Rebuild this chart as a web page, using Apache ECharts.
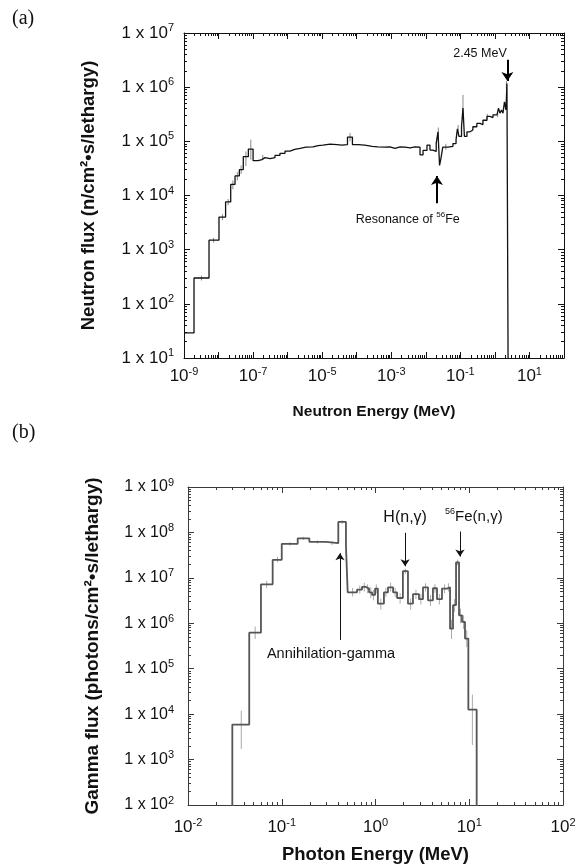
<!DOCTYPE html>
<html>
<head>
<meta charset="utf-8">
<script src="https://cdn.jsdelivr.net/npm/echarts@6/dist/echarts.min.js"></script>
<style>
html, body { margin: 0; padding: 0; background: #fff; }
#main { width: 582px; height: 865px; }
</style>
</head>
<body>
<div id="main"></div>
<script>
// (a) neutron spectrum - bin lower edges (MeV) and flux per bin
var nEnergy = [1e-9, 1.95e-9, 5.3e-9, 1.03e-8, 1.6e-8, 2.25e-8, 3.0e-8, 4.0e-8, 5.2e-8, 7.3e-8,
    1.0e-7, 1.4e-7, 1.8e-7, 2.2e-7, 3.1e-7, 4.3e-7, 6.0e-7, 8.4e-7, 1.17e-6, 1.6e-6,
    2.3e-6, 3.4e-6, 5.4e-6, 7.6e-6, 1.05e-5, 1.7e-5, 2.7e-5, 3.7e-5, 5.4e-5, 7.5e-5,
    1.09e-4, 1.7e-4, 2.8e-4, 4.1e-4, 6.6e-4, 9.2e-4, 1.28e-3, 1.8e-3, 2.5e-3, 3.5e-3,
    4.9e-3, 6.8e-3, 8.3e-3, 1.08e-2, 1.32e-2, 1.6e-2, 2.0e-2, 2.25e-2, 2.5e-2, 2.75e-2,
    3.1e-2, 4.4e-2, 6.1e-2, 7.5e-2, 8.2e-2, 9.1e-2, 0.108, 0.119, 0.131, 0.155,
    0.19, 0.23, 0.30, 0.37, 0.45, 0.59, 0.72, 0.88, 1.15, 1.27,
    1.40, 1.55, 1.71, 1.89, 2.09, 2.23, 2.45, 100];
var nFlux = [29, 300, 1500, 4000, 7600, 16000, 23000, 30000, 52000, 72000,
    44000, 46000, 50000, 48000, 50000, 55000, 60000, 66000, 71000, 74000,
    78000, 79000, 83000, 85000, 89000, 87000, 85000, 87000, 120000, 87000,
    85000, 81000, 79000, 78000, 79000, 74000, 79000, 78000, 76000, 79000,
    78000, 56000, 68000, 85000, 69000, 65000, 93000, 150000, 36000, 49000,
    78000, 81000, 91000, 107000, 170000, 123000, 186000, 410000, 123000, 150000,
    162000, 186000, 214000, 204000, 245000, 288000, 275000, 309000, 309000, 410000,
    331000, 380000, 331000, 537000, 380000, 1170000, 0.5, 0.5];
var nErrE = [3.2e-9, 7.2e-9, 1.3e-8, 1.9e-8, 2.6e-8, 3.5e-8, 4.5e-8, 6.2e-8, 8.6e-8, 1.9e-7,
    6.4e-5, 2.3e-2, 3.8e-2, 8.6e-2, 0.119, 0.6, 1.2, 2.15];
var nErrLo = [270, 1350, 3500, 6600, 13000, 19000, 25000, 35000, 46000, 46000,
    100000, 110000, 70000, 140000, 260000, 260000, 280000, 900000];
var nErrHi = [330, 1650, 4500, 8600, 19000, 27000, 36000, 65000, 107000, 56000,
    142000, 180000, 90000, 200000, 720000, 320000, 340000, 1300000];

// (b) gamma spectrum
var gEnergy = [0.01, 0.0297, 0.045, 0.060, 0.080, 0.100, 0.148, 0.197, 0.296, 0.401,
    0.484, 0.505, 0.635, 0.718, 0.792, 0.853, 0.918, 0.99, 1.06, 1.23,
    1.36, 1.54, 1.70, 1.96, 2.22, 2.51, 2.91, 3.21, 3.63, 4.10,
    4.53, 5.12, 5.79, 6.24, 6.71, 7.23, 7.78, 8.37, 9.01, 9.78, 12.0, 100];
var gFlux = [10, 5900, 6.2e5, 7.2e6, 2.5e7, 5.6e7, 7.4e7, 6.2e7, 5.8e7, 1.7e8,
    5.0e7, 4.8e6, 5.5e6, 6.3e6, 5.8e6, 4.8e6, 4.2e6, 5.8e6, 2.7e6, 4.8e6,
    6.2e6, 4.8e6, 3.6e6, 1.4e7, 2.7e6, 4.4e6, 3.4e6, 6.2e6, 3.2e6, 5.9e6,
    3.4e6, 5.8e6, 6.2e6, 7.6e5, 2.5e6, 2.2e7, 1.5e6, 1.07e6, 4.6e5, 1.26e4, 1, 1];
var gErrE = [0.037, 0.052, 0.069, 0.09, 0.122, 0.17, 0.24, 0.345, 0.44, 0.57,
    0.68, 0.76, 0.82, 0.89, 0.95, 1.02, 1.14, 1.29, 1.45, 1.62,
    1.83, 2.08, 2.37, 2.7, 3.05, 3.42, 3.86, 4.31, 4.8, 5.45,
    6.0, 6.47, 6.97, 7.5, 8.07, 8.7, 9.4, 10.8];
var gErrLo = [1700, 4.5e5, 6.0e6, 2.2e7, 5.1e7, 6.8e7, 5.7e7, 5.3e7, 1.55e8, 3.9e6,
    4.5e6, 5.0e6, 4.6e6, 3.6e6, 3.2e6, 4.6e6, 2.0e6, 3.8e6, 5.0e6, 3.8e6,
    2.7e6, 1.2e7, 2.0e6, 3.4e6, 2.6e6, 5.0e6, 2.4e6, 4.7e6, 2.6e6, 4.6e6,
    5.0e6, 4.5e5, 1.8e6, 1.9e7, 1.0e6, 7.5e5, 3.0e5, 2100];
var gErrHi = [12000, 8.5e5, 8.6e6, 2.9e7, 6.1e7, 8.0e7, 6.7e7, 6.3e7, 1.85e8, 6.0e6,
    6.8e6, 7.8e6, 7.2e6, 6.2e6, 5.4e6, 7.2e6, 3.5e6, 6.0e6, 7.8e6, 6.0e6,
    4.6e6, 1.6e7, 3.5e6, 5.5e6, 4.4e6, 7.6e6, 4.2e6, 7.3e6, 4.4e6, 7.2e6,
    7.6e6, 1.2e6, 3.4e6, 2.5e7, 2.1e6, 1.5e6, 7.0e5, 27000];

// tick label exponents
var nXLabelExp = [-9, -7, -5, -3, -1, 1];
var nYLabelExp = [1, 2, 3, 4, 5, 6, 7];
var gXLabelExp = [-2, -1, 0, 1, 2];
var gYLabelExp = [2, 3, 4, 5, 6, 7, 8, 9];

var font = 'Liberation Sans';

function expOf(v) { return Math.round(Math.log10(v)); }
function minorValues(d0, d1) {
    var out = [];
    for (var d = d0; d < d1; d++) {
        for (var m = 2; m <= 9; m++) out.push(m * Math.pow(10, d));
    }
    return out;
}
function pairs(xs, ys) { return xs.map(function (x, i) { return [x, ys[i]]; }); }

function supRich(size, supSize) {
    return {
        b: { fontFamily: font, fontSize: size, lineHeight: size + 4, color: '#111' },
        s: { fontFamily: font, fontSize: supSize, lineHeight: supSize, verticalAlign: 'top', color: '#111' }
    };
}

function logAxis(grid, pos, min, max, o) {
    var ax = {
        type: 'log', logBase: 10, gridIndex: grid, position: pos,
        min: min, max: max, interval: 1, silent: true,
        splitLine: { show: false },
        axisLine: { show: !o.minor, lineStyle: { color: o.color, width: 1 } },
        axisTick: { show: true, inside: true, length: o.minor ? 3 : 6, lineStyle: { color: o.color, width: 1 } },
        axisLabel: { show: false }
    };
    if (o.minor) ax.axisTick.customValues = o.minor;
    if (o.label) ax.axisLabel = o.label;
    if (o.name) {
        ax.name = o.name;
        ax.nameLocation = 'middle';
        ax.nameGap = o.nameGap;
        ax.nameTextStyle = { fontFamily: font, fontWeight: 'bold', fontSize: o.nameSize, color: '#111' };
    }
    return ax;
}

function xLabel(exps, size, margin) {
    return {
        show: true, margin: margin, fontFamily: font, fontSize: size, color: '#111',
        formatter: function (v) {
            var e = expOf(v);
            return exps.indexOf(e) >= 0 ? '{b|10}{s|' + e + '}' : '';
        },
        rich: supRich(size, 11)
    };
}
function yLabel(exps, size, margin) {
    return {
        show: true, margin: margin, fontFamily: font, fontSize: size, color: '#111',
        formatter: function (v) {
            var e = expOf(v);
            return exps.indexOf(e) >= 0 ? '{b|1 x 10}{s|' + e + '}' : '';
        },
        rich: supRich(size, 11)
    };
}

function errSeries(xi, yi, xs, los, his, color) {
    return {
        type: 'custom', xAxisIndex: xi, yAxisIndex: yi, silent: true, clip: true, z: 1,
        data: xs.map(function (x, i) { return [x, los[i], his[i]]; }),
        encode: { x: 0, y: [1, 2] },
        renderItem: function (params, api) {
            var a = api.coord([api.value(0), api.value(1)]);
            var b = api.coord([api.value(0), api.value(2)]);
            return { type: 'line', shape: { x1: a[0], y1: a[1], x2: b[0], y2: b[1] }, style: { stroke: color, lineWidth: 1 } };
        }
    };
}

var nMinorX = minorValues(-9, 2), nMinorY = minorValues(1, 7);
var gMinorX = minorValues(-2, 2), gMinorY = minorValues(2, 9);
var cA = '#111', cB = '#3a3a3a';

var option = {
    animation: false,
    backgroundColor: '#fff',
    grid: [
        { left: 184, top: 33, width: 380, height: 325 },
        { left: 188, top: 487, width: 375, height: 321 }
    ],
    xAxis: [
        logAxis(0, 'bottom', 1e-9, 100, { color: cA, label: xLabel(nXLabelExp, 17, 8), name: 'Neutron Energy (MeV)', nameGap: 46, nameSize: 15.5 }),
        logAxis(0, 'top', 1e-9, 100, { color: cA }),
        logAxis(0, 'bottom', 1e-9, 100, { color: cA, minor: nMinorX }),
        logAxis(0, 'top', 1e-9, 100, { color: cA, minor: nMinorX }),
        logAxis(1, 'bottom', 0.01, 100, { color: cB, label: xLabel(gXLabelExp, 17, 12), name: 'Photon Energy (MeV)', nameGap: 40, nameSize: 18.5 }),
        logAxis(1, 'top', 0.01, 100, { color: cB }),
        logAxis(1, 'bottom', 0.01, 100, { color: cB, minor: gMinorX }),
        logAxis(1, 'top', 0.01, 100, { color: cB, minor: gMinorX })
    ],
    yAxis: [
        logAxis(0, 'left', 10, 1e7, { color: cA, label: yLabel(nYLabelExp, 17, 10), name: 'Neutron flux (n/cm²•s/lethargy)', nameGap: 86, nameSize: 18.5 }),
        logAxis(0, 'right', 10, 1e7, { color: cA }),
        logAxis(0, 'left', 10, 1e7, { color: cA, minor: nMinorY }),
        logAxis(0, 'right', 10, 1e7, { color: cA, minor: nMinorY }),
        logAxis(1, 'left', 100, 1e9, { color: cB, label: yLabel(gYLabelExp, 16, 14), name: 'Gamma flux (photons/cm²•s/lethargy)', nameGap: 86, nameSize: 19 }),
        logAxis(1, 'right', 100, 1e9, { color: cB }),
        logAxis(1, 'left', 100, 1e9, { color: cB, minor: gMinorY }),
        logAxis(1, 'right', 100, 1e9, { color: cB, minor: gMinorY })
    ],
    series: [
        errSeries(0, 0, nErrE, nErrLo, nErrHi, '#888'),
        {
            type: 'line', xAxisIndex: 0, yAxisIndex: 0, step: 'end', symbol: 'none', silent: true, z: 3,
            data: pairs(nEnergy, nFlux),
            lineStyle: { color: '#111', width: 1.3 },
            markLine: {
                silent: true, symbol: ['none', 'arrow'], symbolSize: 9,
                label: { show: false },
                lineStyle: { color: '#000', width: 2, type: 'solid' },
                data: [
                    [{ coord: [2.3, 3.2e6] }, { coord: [2.3, 1.3e6] }],
                    [{ coord: [2.1e-2, 7200] }, { coord: [2.1e-2, 23000] }]
                ]
            },
            markPoint: {
                silent: true, symbol: 'circle', symbolSize: 0,
                label: { show: true, position: 'inside', fontFamily: font, fontSize: 12.5, color: '#111' },
                data: [
                    { coord: [0.37, 4.1e6], label: { formatter: '2.45 MeV' } },
                    { coord: [3.0e-3, 3600], label: { formatter: '{b|Resonance of }{s|56}{b|Fe}', rich: supRich(12.5, 8) } }
                ]
            }
        },
        errSeries(4, 4, gErrE, gErrLo, gErrHi, '#aaa'),
        {
            type: 'line', xAxisIndex: 4, yAxisIndex: 4, step: 'end', symbol: 'none', silent: true, z: 3,
            data: pairs(gEnergy, gFlux),
            lineStyle: { color: '#555', width: 1.8 },
            markLine: {
                silent: true, symbol: ['none', 'arrow'], symbolSize: 7,
                label: { show: false },
                lineStyle: { color: '#111', width: 1, type: 'solid' },
                data: [
                    [{ coord: [0.418, 4.3e5] }, { coord: [0.418, 3.5e7] }],
                    [{ coord: [2.07, 9.8e7] }, { coord: [2.07, 1.8e7] }],
                    [{ coord: [7.96, 1.05e8] }, { coord: [7.96, 2.95e7] }]
                ]
            },
            markPoint: {
                silent: true, symbol: 'circle', symbolSize: 0,
                label: { show: true, position: 'inside', fontFamily: font, fontSize: 15, color: '#111' },
                data: [
                    { coord: [0.335, 2.07e5], label: { formatter: 'Annihilation-gamma', fontSize: 14.5 } },
                    { coord: [2.07, 2.1e8], label: { formatter: 'H(n,γ)', fontSize: 16 } },
                    { coord: [11.2, 2.2e8], label: { formatter: '{s|56}{b|Fe(n,γ)}', rich: supRich(15, 9) } }
                ]
            }
        }
    ],
    graphic: [
        { type: 'text', left: 12, top: 9, style: { text: '(a)', font: '20px "Liberation Serif"', fill: '#111' } },
        { type: 'text', left: 12, top: 423, style: { text: '(b)', font: '20px "Liberation Serif"', fill: '#111' } }
    ]
};

var chart = echarts.init(document.getElementById('main'), null, { renderer: 'canvas' });
chart.setOption(option);
</script>
</body>
</html>
